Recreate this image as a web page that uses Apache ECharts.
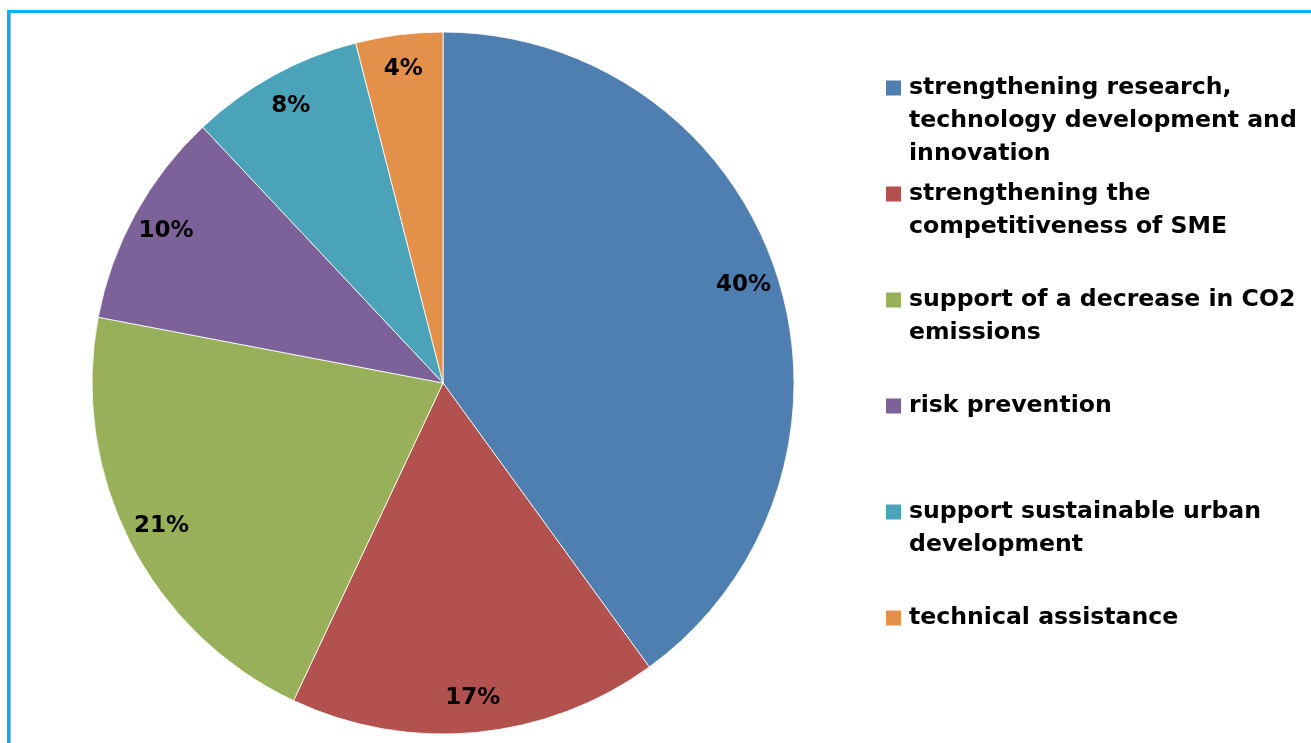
<!DOCTYPE html>
<html>
<head>
<meta charset="utf-8">
<title>Allocation by priority axis</title>
<script src="https://cdn.jsdelivr.net/npm/echarts@6/dist/echarts.min.js"></script>
<style>
  html, body { margin: 0; padding: 0; background: #ffffff; }
  #chart { width: 1311px; height: 743px; }
</style>
</head>
<body>
<div id="chart"></div>
<script>
// Priority axes (line breaks as shown in the legend)
const categories = [
  'strengthening research,\ntechnology development and\ninnovation',
  'strengthening the\ncompetitiveness of SME',
  'support of a decrease in CO2\nemissions',
  'risk prevention',
  'support sustainable urban\ndevelopment',
  'technical assistance'
];
// Share of allocation, percent
const shares = [40, 17, 21, 10, 8, 4];
const colors = ['#4F7EB1', '#B2514E', '#98B05A', '#7D629A', '#4BA3B9', '#E2904A'];

const FONT = '"DejaVu Sans", Verdana, sans-serif';
const LEGEND_SIZE = 23.6;
const LINE_H = 33;
const MAX_LINES = 3;
const ICON = 15;

const pieData = categories.map((name, i) => ({
  name: name,
  value: shares[i],
  itemStyle: { color: colors[i] }
}));

// Legend entries: every entry gets a box of the same height, padded so
// the first text line sits level with its colour square.
const boxH = (2 * MAX_LINES - 1) * LINE_H;
const legendData = categories.map(name => {
  const n = name.split('\n').length;
  const top = (MAX_LINES - 1) * LINE_H;
  const bottom = boxH - top - n * LINE_H;
  return { name: name, textStyle: { padding: [top, 0, bottom, 3] } };
});

const chart = echarts.init(document.getElementById('chart'), null, { renderer: 'canvas' });

chart.setOption({
  backgroundColor: '#ffffff',
  animation: false,
  graphic: [
    { type: 'rect', shape: { x: 7, y: 10, width: 1304, height: 3 }, style: { fill: '#00B0F0' }, silent: true },
    { type: 'rect', shape: { x: 7, y: 10, width: 3, height: 733 }, style: { fill: '#00B0F0' }, silent: true },
    { type: 'rect', shape: { x: 10, y: 13, width: 1, height: 730 }, style: { fill: '#9FB4C0' }, silent: true }
  ],
  legend: {
    orient: 'vertical',
    left: 886,
    top: 88 - boxH / 2,
    padding: 0,
    itemWidth: ICON,
    itemHeight: ICON,
    itemGap: 106 - boxH,
    selectedMode: false,
    icon: 'rect',
    itemStyle: { borderWidth: 0 },
    formatter: name => '{t|' + name + '}',
    textStyle: {
      fontFamily: FONT,
      fontSize: LEGEND_SIZE,
      fontWeight: 'bold',
      color: '#000000',
      lineHeight: LINE_H,
      rich: {
        t: {
          fontFamily: FONT,
          fontSize: LEGEND_SIZE,
          fontWeight: 'bold',
          color: '#000000',
          lineHeight: LINE_H
        }
      }
    },
    data: legendData
  },
  series: [
    {
      type: 'pie',
      center: [443, 383],
      radius: 351,
      startAngle: 90,
      clockwise: true,
      avoidLabelOverlap: false,
      silent: true,
      itemStyle: { borderColor: '#ffffff', borderWidth: 0.8 },
      label: { show: false },
      labelLine: { show: false },
      data: pieData
    },
    {
      // value labels, placed near the rim of each slice
      type: 'pie',
      center: [443, 383],
      radius: [275, 351],
      startAngle: 90,
      clockwise: true,
      avoidLabelOverlap: false,
      silent: true,
      z: 3,
      itemStyle: { color: 'rgba(0,0,0,0)', borderWidth: 0 },
      label: {
        show: true,
        position: 'inside',
        formatter: p => p.value + '%',
        fontFamily: FONT,
        fontSize: 23,
        fontWeight: 'bold',
        color: '#000000'
      },
      labelLine: { show: false },
      data: categories.map((name, i) => ({ name: name, value: shares[i] }))
    }
  ]
});
</script>
</body>
</html>
